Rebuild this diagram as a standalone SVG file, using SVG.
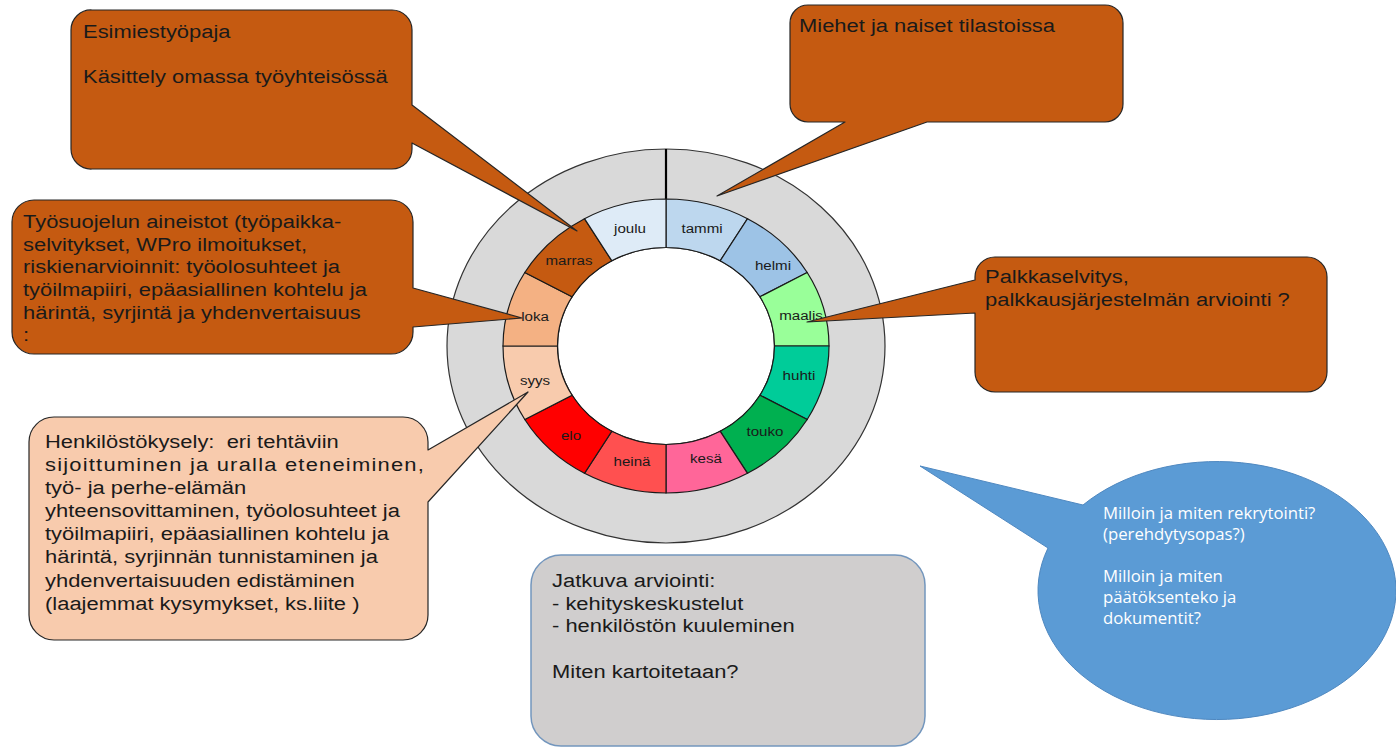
<svg xmlns="http://www.w3.org/2000/svg" width="1396" height="747" viewBox="0 0 1396 747">
<style>
.bg{fill:#ffffff}
.callout{fill:#c55a11;stroke:#262626;stroke-width:1.2;stroke-linejoin:round}
.peach{fill:#f8cbad;stroke:#262626;stroke-width:1.2;stroke-linejoin:round}
.grey{fill:#d0cece;stroke:#7396bd;stroke-width:1.5}
.blue{fill:#5b9bd5;stroke:#4f88c0;stroke-width:1}
.seg{stroke:#1a1a1a;stroke-width:1.2}
.t{font-family:"Liberation Sans",Arial,sans-serif;font-size:19px;fill:#1a1a1a}
.m{font-family:"Liberation Sans",Arial,sans-serif;font-size:13.5px;fill:#1a1a1a;text-anchor:middle}
.w{font-family:"Open Sans","Noto Sans",sans-serif;font-size:15.5px;fill:#ffffff}
</style>
<rect class="bg" x="0" y="0" width="1396" height="747"/>

<g id="wheel">
  <ellipse cx="666" cy="346" rx="219" ry="197" fill="#d9d9d9" stroke="#333333" stroke-width="1.2"/>
  <ellipse cx="666" cy="346" rx="108.5" ry="98.5" fill="#ffffff" stroke="#1a1a1a" stroke-width="1.2"/>
  <line x1="666" y1="149" x2="666" y2="199" stroke="#000000" stroke-width="2.2"/>
  <g id="month-tammi"><path class="seg" fill="#bdd7ee" d="M666,199 A163,147 0 0 1 747.5,218.7 L720.25,260.7 A108.5,98.5 0 0 0 666,247.5 Z"/><text class="m" transform="translate(702,233) scale(1.12,1)">tammi</text></g>
  <g id="month-helmi"><path class="seg" fill="#9dc3e6" d="M747.5,218.7 A163,147 0 0 1 807.2,272.5 L759.96,296.75 A108.5,98.5 0 0 0 720.25,260.7 Z"/><text class="m" transform="translate(773,270) scale(1.12,1)">helmi</text></g>
  <g id="month-maalis"><path class="seg" fill="#99ff99" d="M807.2,272.5 A163,147 0 0 1 829,346 L774.5,346 A108.5,98.5 0 0 0 759.96,296.75 Z"/><text class="m" transform="translate(801,320) scale(1.12,1)">maalis</text></g>
  <g id="month-huhti"><path class="seg" fill="#00cc99" d="M829,346 A163,147 0 0 1 807.2,419.5 L759.96,395.25 A108.5,98.5 0 0 0 774.5,346 Z"/><text class="m" transform="translate(799,380) scale(1.12,1)">huhti</text></g>
  <g id="month-touko"><path class="seg" fill="#00b050" d="M807.2,419.5 A163,147 0 0 1 747.5,473.3 L720.25,431.3 A108.5,98.5 0 0 0 759.96,395.25 Z"/><text class="m" transform="translate(765,436) scale(1.12,1)">touko</text></g>
  <g id="month-kesa"><path class="seg" fill="#ff6699" d="M747.5,473.3 A163,147 0 0 1 666,493 L666,444.5 A108.5,98.5 0 0 0 720.25,431.3 Z"/><text class="m" transform="translate(706,463) scale(1.12,1)">kesä</text></g>
  <g id="month-heina"><path class="seg" fill="#ff5050" d="M666,493 A163,147 0 0 1 584.5,473.3 L611.75,431.3 A108.5,98.5 0 0 0 666,444.5 Z"/><text class="m" transform="translate(632,466) scale(1.12,1)">heinä</text></g>
  <g id="month-elo"><path class="seg" fill="#ff0000" d="M584.5,473.3 A163,147 0 0 1 524.8,419.5 L572.04,395.25 A108.5,98.5 0 0 0 611.75,431.3 Z"/><text class="m" transform="translate(571,440) scale(1.12,1)">elo</text></g>
  <g id="month-syys"><path class="seg" fill="#f8cbad" d="M524.8,419.5 A163,147 0 0 1 503,346 L557.5,346 A108.5,98.5 0 0 0 572.04,395.25 Z"/><text class="m" transform="translate(535,385) scale(1.12,1)">syys</text></g>
  <g id="month-loka"><path class="seg" fill="#f4b183" d="M503,346 A163,147 0 0 1 524.8,272.5 L572.04,296.75 A108.5,98.5 0 0 0 557.5,346 Z"/><text class="m" transform="translate(535,321) scale(1.12,1)">loka</text></g>
  <g id="month-marras"><path class="seg" fill="#c55a11" d="M524.8,272.5 A163,147 0 0 1 584.5,218.7 L611.75,260.7 A108.5,98.5 0 0 0 572.04,296.75 Z"/><text class="m" transform="translate(569,265) scale(1.12,1)">marras</text></g>
  <g id="month-joulu"><path class="seg" fill="#deebf7" d="M584.5,218.7 A163,147 0 0 1 666,199 L666,247.5 A108.5,98.5 0 0 0 611.75,260.7 Z"/><text class="m" transform="translate(630,233) scale(1.12,1)">joulu</text></g>
</g>

<g id="callout-esimies">
  <path class="callout" d="M92,10 H392 A20,20 0 0 1 412,30 V105 L577,231 L412,143 V149 A20,20 0 0 1 392,169 H92 A20,20 0 0 1 71,149 V30 A20,20 0 0 1 92,10 Z"/>
  <text class="t" transform="translate(83,38) scale(1.155,1)"><tspan x="0" y="0">Esimiestyöpaja</tspan><tspan x="0" y="45">Käsittely omassa työyhteisössä</tspan></text>
</g>

<g id="callout-tilastot">
  <path class="callout" d="M808,5 H1105 A18,18 0 0 1 1123,23 V104 A18,18 0 0 1 1105,122 H927 L717,196 L845,122 H808 A18,18 0 0 1 790,104 V23 A18,18 0 0 1 808,5 Z"/>
  <text class="t" transform="translate(799,32) scale(1.155,1)">Miehet ja naiset tilastoissa</text>
</g>

<g id="callout-tyosuojelu">
  <path class="callout" d="M34,200 H391 A22,22 0 0 1 413,222 V288 L522,318 L413,327 V332 A22,22 0 0 1 391,354 H34 A22,22 0 0 1 12,332 V222 A22,22 0 0 1 34,200 Z"/>
  <text class="t" transform="translate(23,228) scale(1.155,1)"><tspan x="0" y="0">Työsuojelun aineistot (työpaikka-</tspan><tspan x="0" y="22.7">selvitykset, WPro ilmoitukset,</tspan><tspan x="0" y="45.4">riskienarvioinnit: työolosuhteet ja</tspan><tspan x="0" y="68.1">työilmapiiri, epäasiallinen kohtelu ja</tspan><tspan x="0" y="90.8">härintä, syrjintä ja yhdenvertaisuus</tspan><tspan x="0" y="113.5">:</tspan></text>
</g>

<g id="callout-palkka">
  <path class="callout" d="M995,257 H1307 A20,20 0 0 1 1327,277 V372 A20,20 0 0 1 1307,392 H995 A20,20 0 0 1 975,372 V313 L807,322 L975,280 V277 A20,20 0 0 1 995,257 Z"/>
  <text class="t" transform="translate(985,283) scale(1.155,1)"><tspan x="0" y="0">Palkkaselvitys,</tspan><tspan x="0" y="22.6">palkkausjärjestelmän arviointi ?</tspan></text>
</g>

<g id="callout-kysely">
  <path class="peach" d="M54,417 H403 A25,25 0 0 1 428,442 V450 L528,392 L428,502 V615 A25,25 0 0 1 403,640 H54 A25,25 0 0 1 29,615 V442 A25,25 0 0 1 54,417 Z"/>
  <text class="t" transform="translate(45,448) scale(1.155,1)"><tspan x="0" y="0">Henkilöstökysely:&#160; eri tehtäviin</tspan><tspan x="0" y="23.1" textLength="328" lengthAdjust="spacing">sijoittuminen ja uralla eteneiminen,</tspan><tspan x="0" y="46.2">työ- ja perhe-elämän</tspan><tspan x="0" y="69.3">yhteensovittaminen, työolosuhteet ja</tspan><tspan x="0" y="92.4">työilmapiiri, epäasiallinen kohtelu ja</tspan><tspan x="0" y="115.5">härintä, syrjinnän tunnistaminen ja</tspan><tspan x="0" y="138.6">yhdenvertaisuuden edistäminen</tspan><tspan x="0" y="161.7">(laajemmat kysymykset, ks.liite )</tspan></text>
</g>

<g id="box-jatkuva">
  <rect class="grey" x="531" y="555" width="394" height="191" rx="30" ry="30"/>
  <text class="t" transform="translate(552,587) scale(1.155,1)"><tspan x="0" y="0">Jatkuva arviointi:</tspan><tspan x="0" y="22.7">- kehityskeskustelut</tspan><tspan x="0" y="45.4">- henkilöstön kuuleminen</tspan><tspan x="0" y="90.8">Miten kartoitetaan?</tspan></text>
</g>

<g id="callout-rekrytointi">
  <path class="blue" d="M1083,505 L920,466 L1048,548 A179,129 0 1 0 1083,505 Z"/>
  <text class="w" transform="translate(1103,519) scale(1.08,1)"><tspan x="0" y="0">Milloin ja miten rekrytointi?</tspan><tspan x="0" y="21">(perehdytysopas?)</tspan><tspan x="0" y="63">Milloin ja miten</tspan><tspan x="0" y="84">päätöksenteko ja</tspan><tspan x="0" y="105">dokumentit?</tspan></text>
</g>
</svg>
